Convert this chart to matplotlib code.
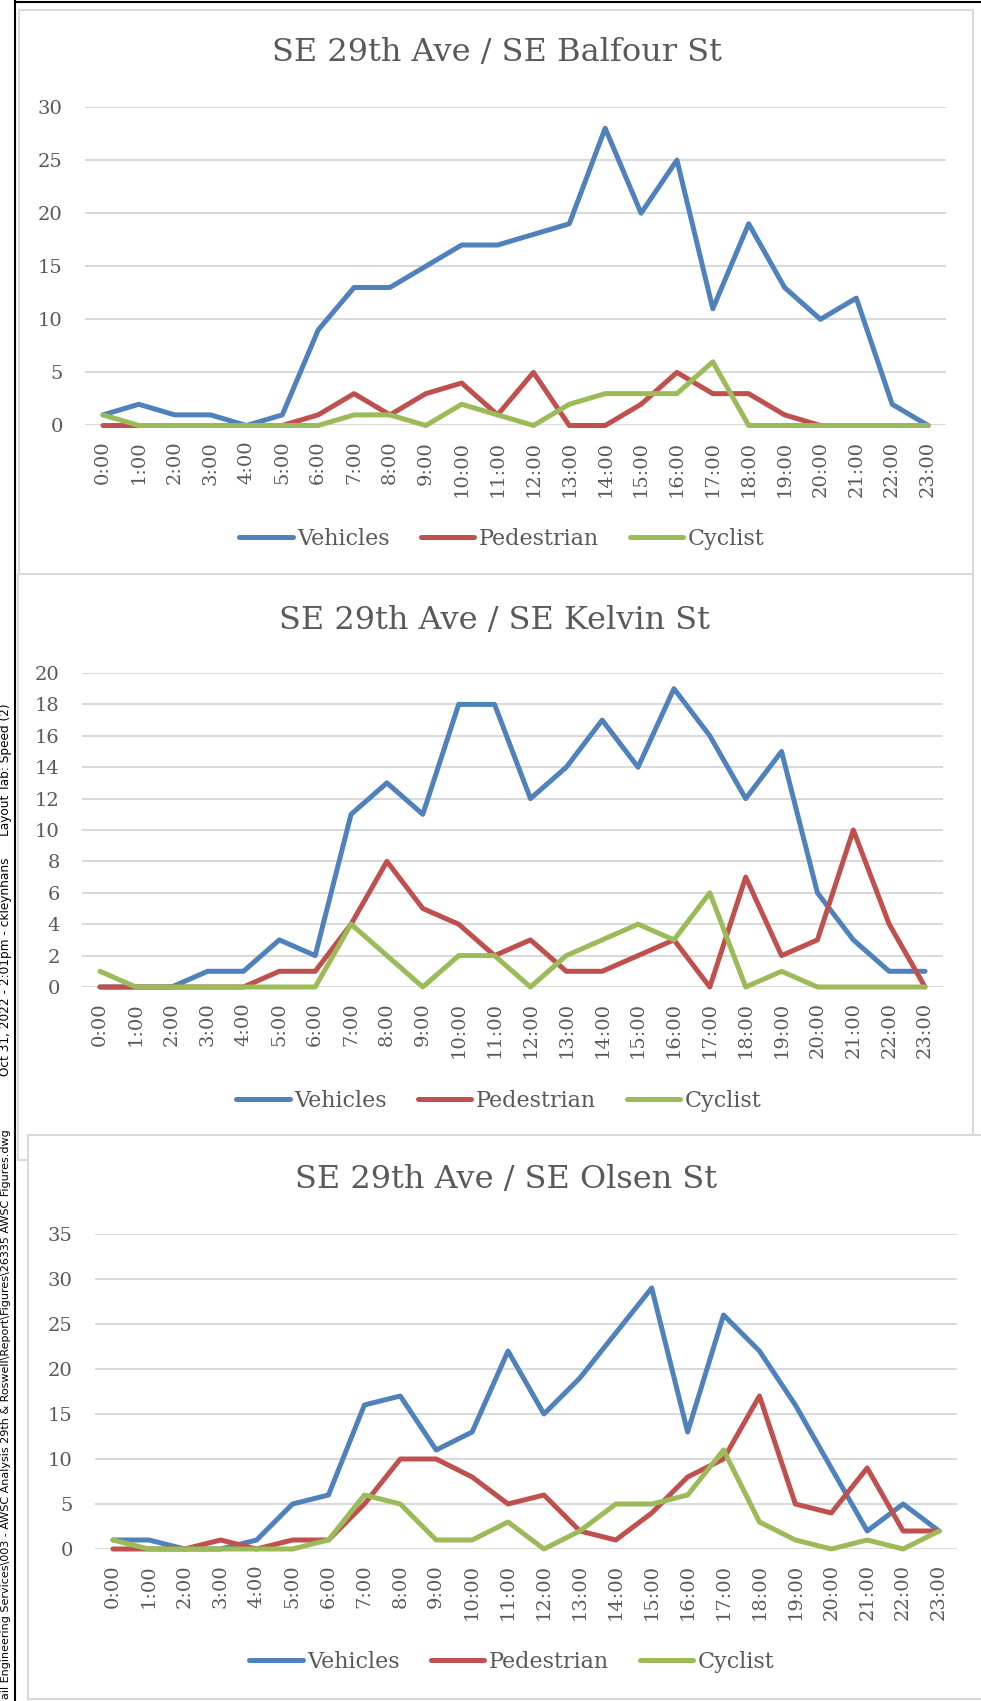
import matplotlib.pyplot as plt
from matplotlib.patches import Rectangle
from matplotlib.lines import Line2D

# hourly counts at each intersection
hours = ['0:00', '1:00', '2:00', '3:00', '4:00', '5:00', '6:00', '7:00',
         '8:00', '9:00', '10:00', '11:00', '12:00', '13:00', '14:00', '15:00',
         '16:00', '17:00', '18:00', '19:00', '20:00', '21:00', '22:00', '23:00']

balfour_vehicles = [1, 2, 1, 1, 0, 1, 9, 13, 13, 15, 17, 17, 18, 19, 28, 20, 25, 11, 19, 13, 10, 12, 2, 0]
balfour_peds = [0, 0, 0, 0, 0, 0, 1, 3, 1, 3, 4, 1, 5, 0, 0, 2, 5, 3, 3, 1, 0, 0, 0, 0]
balfour_cyclists = [1, 0, 0, 0, 0, 0, 0, 1, 1, 0, 2, 1, 0, 2, 3, 3, 3, 6, 0, 0, 0, 0, 0, 0]

kelvin_vehicles = [0, 0, 0, 1, 1, 3, 2, 11, 13, 11, 18, 18, 12, 14, 17, 14, 19, 16, 12, 15, 6, 3, 1, 1]
kelvin_peds = [0, 0, 0, 0, 0, 1, 1, 4, 8, 5, 4, 2, 3, 1, 1, 2, 3, 0, 7, 2, 3, 10, 4, 0]
kelvin_cyclists = [1, 0, 0, 0, 0, 0, 0, 4, 2, 0, 2, 2, 0, 2, 3, 4, 3, 6, 0, 1, 0, 0, 0, 0]

olsen_vehicles = [1, 1, 0, 0, 1, 5, 6, 16, 17, 11, 13, 22, 15, 19, 24, 29, 13, 26, 22, 16, 9, 2, 5, 2]
olsen_peds = [0, 0, 0, 1, 0, 1, 1, 5, 10, 10, 8, 5, 6, 2, 1, 4, 8, 10, 17, 5, 4, 9, 2, 2]
olsen_cyclists = [1, 0, 0, 0, 0, 0, 1, 6, 5, 1, 1, 3, 0, 2, 5, 5, 6, 11, 3, 1, 0, 1, 0, 2]

W, H = 981, 1701
BLUE, RED, GREEN = '#4F81BD', '#C0504D', '#9BBB59'
TEXT = '#595959'
GRID = '#D9D9D9'

plt.rcParams['font.family'] = 'DejaVu Serif'

fig = plt.figure(figsize=(W / 100, H / 100), dpi=100)


def fig_rect(x0, y0, x1, y1):
    # pixel box (top-left origin) -> figure fraction
    return [x0 / W, 1 - y1 / H, (x1 - x0) / W, (y1 - y0) / H]


def panel(title, vehicles, peds, cyclists, ymax, step, frame, plot, title_xy, legend_xy, z):
    fr = fig_rect(*frame)
    fig.add_artist(Rectangle(fr[:2], fr[2], fr[3], transform=fig.transFigure,
                             facecolor='white', edgecolor=GRID, lw=1.5, zorder=z))

    ax = fig.add_axes(fig_rect(*plot))
    ax.set_facecolor('none')
    x = range(len(hours))
    for vals, color, name in [(vehicles, BLUE, 'Vehicles'),
                              (peds, RED, 'Pedestrian'),
                              (cyclists, GREEN, 'Cyclist')]:
        ax.plot(x, vals, color=color, lw=3.6, label=name, clip_on=False,
                solid_capstyle='round', solid_joinstyle='round')

    ax.set_xlim(-0.5, len(hours) - 0.5)
    ax.set_ylim(0, ymax)
    ax.set_yticks(range(0, ymax + 1, step))
    ax.set_xticks(list(x))
    ax.set_xticklabels(hours, rotation=90)
    ax.tick_params(axis='y', length=0, colors=TEXT, labelsize=14, pad=16)
    ax.tick_params(axis='x', length=0, colors=TEXT, labelsize=14, pad=11)
    ax.yaxis.grid(True, color=GRID, lw=1.4)
    ax.set_axisbelow(True)
    for s in ax.spines.values():
        s.set_visible(False)

    fig.text(title_xy[0] / W, 1 - title_xy[1] / H, title, ha='center', va='center',
             fontsize=23, color=TEXT)
    ax.legend(loc='center', bbox_to_anchor=(legend_xy[0] / W, 1 - legend_xy[1] / H),
              bbox_transform=fig.transFigure, ncol=3, frameon=False, fontsize=16,
              labelcolor=TEXT, handlelength=2.4, handletextpad=0.2, columnspacing=1.4)


panel('SE 29th Ave / SE Balfour St', balfour_vehicles, balfour_peds, balfour_cyclists,
      30, 5, (19, 10, 973, 575), (85, 107, 946, 425.5), (497, 53), (502, 539), -3)
panel('SE 29th Ave / SE Kelvin St', kelvin_vehicles, kelvin_peds, kelvin_cyclists,
      20, 2, (17.5, 574, 973, 1160), (82, 673, 943, 987), (494, 620), (499, 1101), -2)
panel('SE 29th Ave / SE Olsen St', olsen_vehicles, olsen_peds, olsen_cyclists,
      35, 5, (28, 1135, 995, 1699), (95, 1234, 957, 1549), (506, 1179), (512, 1662), -1)

# sheet border
fig.add_artist(Line2D([15 / W, 15 / W], [0, 1], color='black', lw=1.5, zorder=5))
fig.add_artist(Line2D([15 / W, 1], [1 - 2 / H, 1 - 2 / H], color='black', lw=1.5, zorder=5))

# plot stamp along the left edge
stamp = dict(rotation=90, ha='center', fontsize=8.7, color='black', family='DejaVu Sans')
fig.text(6 / W, 1 - 703 / H, 'Layout Tab: Speed (2)', va='top', **stamp)
fig.text(6 / W, 1 - 857 / H, 'Oct 31, 2022 - 2:01pm - ckleynhans', va='top', **stamp)
stamp['fontsize'] = 8.0
fig.text(6 / W, 2 / H,
         'ail Engineering Services\\003 - AWSC Analysis 29th & Roswell\\Report\\Figures\\26335 AWSC Figures.dwg',
         va='bottom', **stamp)

fig.savefig('out.png', dpi=100)
